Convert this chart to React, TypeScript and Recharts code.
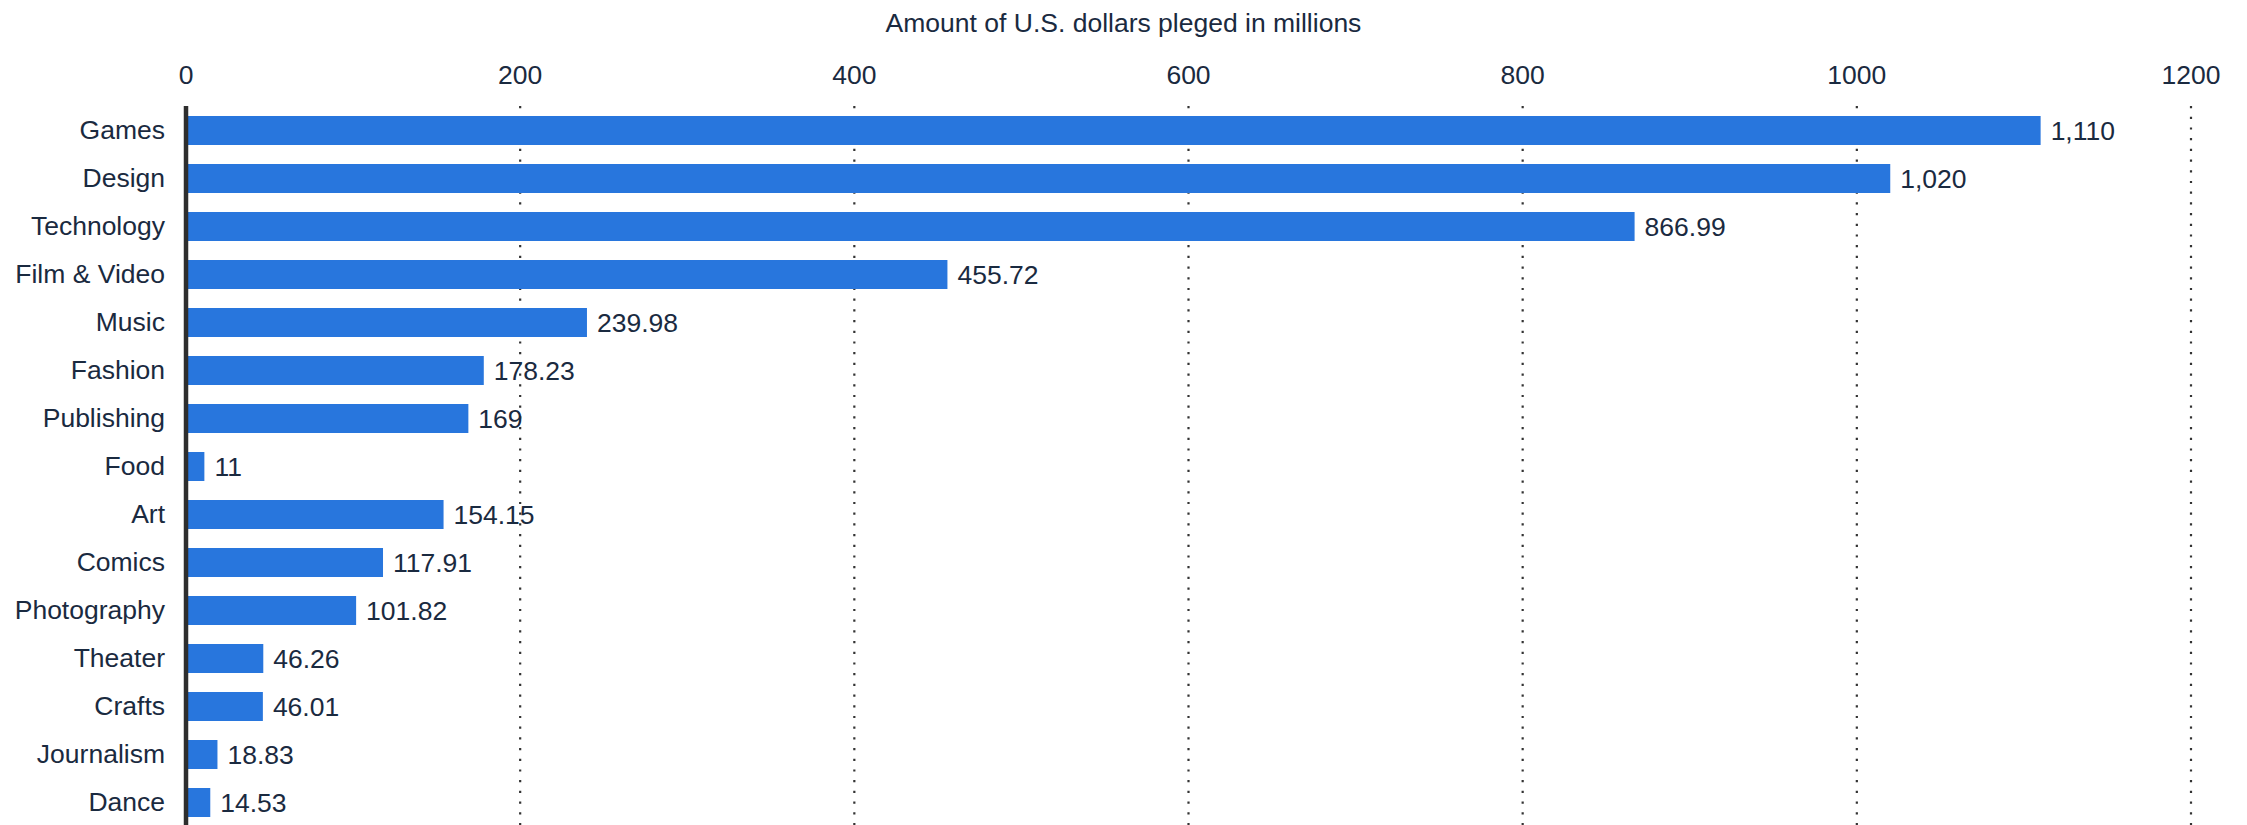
import React from "react";
import { BarChart, Bar, XAxis, YAxis, CartesianGrid, LabelList } from "recharts";

const categories = [
  "Games",
  "Design",
  "Technology",
  "Film & Video",
  "Music",
  "Fashion",
  "Publishing",
  "Food",
  "Art",
  "Comics",
  "Photography",
  "Theater",
  "Crafts",
  "Journalism",
  "Dance",
];

const pledged = [1110, 1020, 866.99, 455.72, 239.98, 178.23, 169, 11, 154.15, 117.91, 101.82, 46.26, 46.01, 18.83, 14.53];

const xTicks = [0, 200, 400, 600, 800, 1000, 1200];

const axisTitle = "Amount of U.S. dollars pleged in millions";

const data = categories.map((name, i) => ({ name, value: pledged[i] }));

const FONT = "'Liberation Sans', Arial, Helvetica, sans-serif";
const TEXT = "#1a2a40";
const BAR = "#2876DD";
const FS = 26.5;

const fmt = (v: any) =>
  Number(v).toLocaleString("en-US", { maximumFractionDigits: 2 });

export default function App() {
  return (
    <div
      style={{
        position: "absolute",
        left: 0,
        top: 0,
        width: 2247,
        height: 825,
        overflow: "hidden",
        background: "#fff",
        fontFamily: FONT,
      }}
    >
      <div
        style={{
          position: "absolute",
          left: 0,
          top: 0,
          width: 2247,
          textAlign: "center",
          fontSize: FS,
          lineHeight: "26px",
          paddingTop: 10,
          color: TEXT,
          fontFamily: FONT,
        }}
      >
        {axisTitle}
      </div>
      <BarChart
        width={2247}
        height={830}
        data={data}
        layout="vertical"
        margin={{ top: 0, right: 56, bottom: 4, left: 0 }}
        barSize={29}
      >
        <CartesianGrid
          horizontal={false}
          vertical={true}
          stroke="#333"
          strokeWidth={2.2}
          strokeDasharray="2.2 8.5"
        />
        <XAxis
          type="number"
          orientation="top"
          domain={[0, 1200]}
          ticks={xTicks}
          height={106}
          axisLine={false}
          tickLine={false}
          tickSize={0}
          tickMargin={22}
          interval={0}
          tick={{ fill: TEXT, fontSize: FS, fontFamily: FONT }}
        />
        <YAxis
          type="category"
          dataKey="name"
          width={186}
          axisLine={{ stroke: "#2e2e2e", strokeWidth: 4.5 }}
          tickLine={false}
          tickSize={0}
          tickMargin={21}
          interval={0}
          tick={{ fill: TEXT, fontSize: FS, fontFamily: FONT }}
        />
        <Bar dataKey="value" fill={BAR} isAnimationActive={false}>
          <LabelList
            dataKey="value"
            position="right"
            offset={10}
            formatter={fmt}
            fill={TEXT}
            fontSize={FS}
            fontFamily={FONT}
          />
        </Bar>
      </BarChart>
    </div>
  );
}
